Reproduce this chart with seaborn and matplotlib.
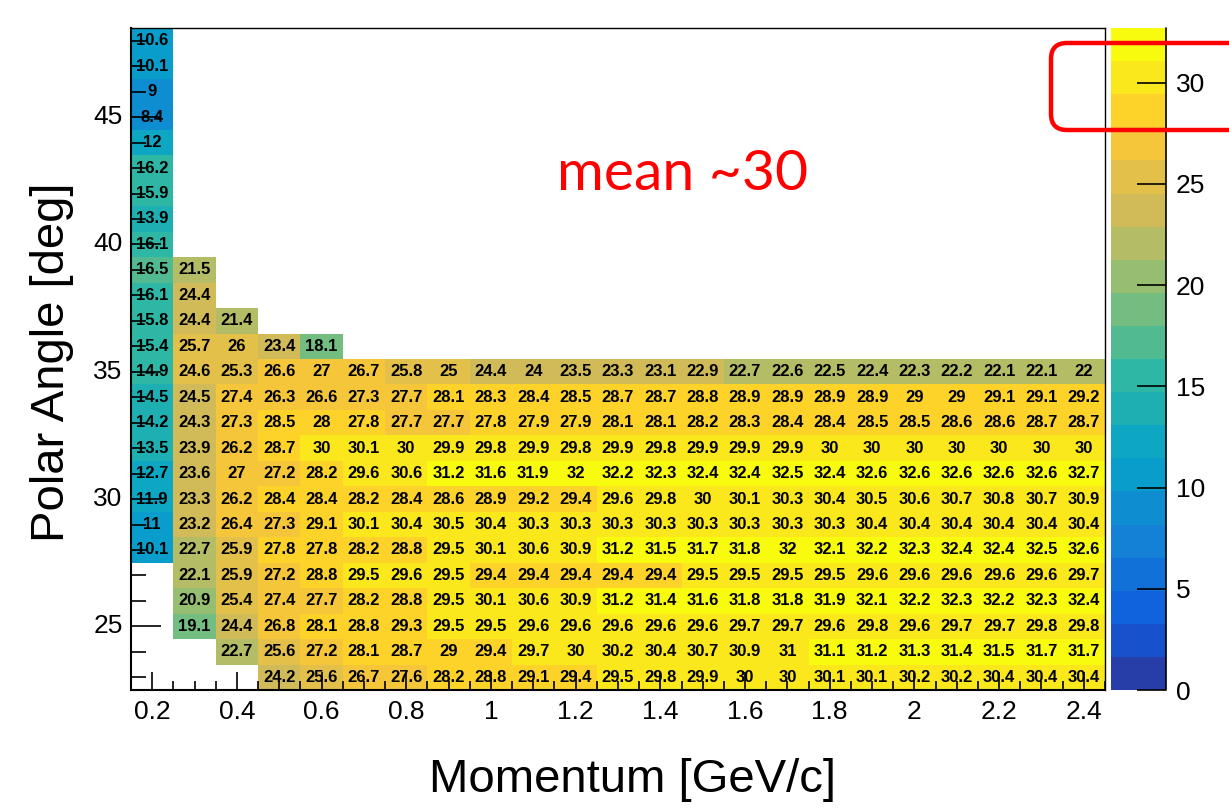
import numpy as np
import pandas as pd
import matplotlib
matplotlib.use("Agg")
import matplotlib.pyplot as plt
import seaborn as sns
from matplotlib.colors import LinearSegmentedColormap, ListedColormap
from matplotlib.patches import FancyBboxPatch
from matplotlib.transforms import IdentityTransform

nan = np.nan

# bin centres
momentum = [0.2, 0.3, 0.4, 0.5, 0.6, 0.7, 0.8, 0.9, 1.0, 1.1, 1.2, 1.3,
            1.4, 1.5, 1.6, 1.7, 1.8, 1.9, 2.0, 2.1, 2.2, 2.3, 2.4]
polar_angle = list(range(23, 49))

# per polar-angle row, values along momentum (short rows are padded with empty bins)
row_23 = [nan, nan, nan, 24.2, 25.6, 26.7, 27.6, 28.2, 28.8, 29.1, 29.4, 29.5, 29.8, 29.9, 30, 30, 30.1, 30.1, 30.2, 30.2, 30.4, 30.4, 30.4]
row_24 = [nan, nan, 22.7, 25.6, 27.2, 28.1, 28.7, 29, 29.4, 29.7, 30, 30.2, 30.4, 30.7, 30.9, 31, 31.1, 31.2, 31.3, 31.4, 31.5, 31.7, 31.7]
row_25 = [nan, 19.1, 24.4, 26.8, 28.1, 28.8, 29.3, 29.5, 29.5, 29.6, 29.6, 29.6, 29.6, 29.6, 29.7, 29.7, 29.6, 29.8, 29.6, 29.7, 29.7, 29.8, 29.8]
row_26 = [nan, 20.9, 25.4, 27.4, 27.7, 28.2, 28.8, 29.5, 30.1, 30.6, 30.9, 31.2, 31.4, 31.6, 31.8, 31.8, 31.9, 32.1, 32.2, 32.3, 32.2, 32.3, 32.4]
row_27 = [nan, 22.1, 25.9, 27.2, 28.8, 29.5, 29.6, 29.5, 29.4, 29.4, 29.4, 29.4, 29.4, 29.5, 29.5, 29.5, 29.5, 29.6, 29.6, 29.6, 29.6, 29.6, 29.7]
row_28 = [10.1, 22.7, 25.9, 27.8, 27.8, 28.2, 28.8, 29.5, 30.1, 30.6, 30.9, 31.2, 31.5, 31.7, 31.8, 32, 32.1, 32.2, 32.3, 32.4, 32.4, 32.5, 32.6]
row_29 = [11, 23.2, 26.4, 27.3, 29.1, 30.1, 30.4, 30.5, 30.4, 30.3, 30.3, 30.3, 30.3, 30.3, 30.3, 30.3, 30.3, 30.4, 30.4, 30.4, 30.4, 30.4, 30.4]
row_30 = [11.9, 23.3, 26.2, 28.4, 28.4, 28.2, 28.4, 28.6, 28.9, 29.2, 29.4, 29.6, 29.8, 30, 30.1, 30.3, 30.4, 30.5, 30.6, 30.7, 30.8, 30.7, 30.9]
row_31 = [12.7, 23.6, 27, 27.2, 28.2, 29.6, 30.6, 31.2, 31.6, 31.9, 32, 32.2, 32.3, 32.4, 32.4, 32.5, 32.4, 32.6, 32.6, 32.6, 32.6, 32.6, 32.7]
row_32 = [13.5, 23.9, 26.2, 28.7, 30, 30.1, 30, 29.9, 29.8, 29.9, 29.8, 29.9, 29.8, 29.9, 29.9, 29.9, 30, 30, 30, 30, 30, 30, 30]
row_33 = [14.2, 24.3, 27.3, 28.5, 28, 27.8, 27.7, 27.7, 27.8, 27.9, 27.9, 28.1, 28.1, 28.2, 28.3, 28.4, 28.4, 28.5, 28.5, 28.6, 28.6, 28.7, 28.7]
row_34 = [14.5, 24.5, 27.4, 26.3, 26.6, 27.3, 27.7, 28.1, 28.3, 28.4, 28.5, 28.7, 28.7, 28.8, 28.9, 28.9, 28.9, 28.9, 29, 29, 29.1, 29.1, 29.2]
row_35 = [14.9, 24.6, 25.3, 26.6, 27, 26.7, 25.8, 25, 24.4, 24, 23.5, 23.3, 23.1, 22.9, 22.7, 22.6, 22.5, 22.4, 22.3, 22.2, 22.1, 22.1, 22]
row_36 = [15.4, 25.7, 26, 23.4, 18.1]
row_37 = [15.8, 24.4, 21.4]
row_38 = [16.1, 24.4]
row_39 = [16.5, 21.5]
row_40 = [16.1]
row_41 = [13.9]
row_42 = [15.9]
row_43 = [16.2]
row_44 = [12]
row_45 = [8.4]
row_46 = [9]
row_47 = [10.1]
row_48 = [10.6]

rows = [row_23, row_24, row_25, row_26, row_27, row_28, row_29, row_30, row_31,
        row_32, row_33, row_34, row_35, row_36, row_37, row_38, row_39, row_40,
        row_41, row_42, row_43, row_44, row_45, row_46, row_47, row_48]

grid = np.full((len(polar_angle), len(momentum)), np.nan)
for i, r in enumerate(rows):
    grid[i, :len(r)] = r

# highest angle on top
df = pd.DataFrame(grid[::-1], index=polar_angle[::-1], columns=momentum)
labels = np.where(np.isnan(df.values), "",
                  np.vectorize(lambda v: f"{v:g}")(np.nan_to_num(df.values)))

# ROOT "bird" palette, 20 contour levels
stops = [0.0, 0.125, 0.25, 0.375, 0.5, 0.625, 0.75, 0.875, 1.0]
red = [0.2082, 0.0592, 0.0780, 0.0232, 0.1802, 0.5301, 0.8186, 0.9956, 0.9764]
green = [0.1664, 0.3599, 0.5041, 0.6419, 0.7178, 0.7492, 0.7328, 0.7862, 0.9832]
blue = [0.5293, 0.8684, 0.8385, 0.7914, 0.6425, 0.4662, 0.3499, 0.1968, 0.0539]
bird = LinearSegmentedColormap.from_list(
    "bird", list(zip(stops, zip(red, green, blue))), N=255)
ncont = 20
cmap = ListedColormap([bird(int((i + 0.99) * 255 / ncont)) for i in range(ncont)])
zmax = float(np.nanmax(grid))

sns.set_style("ticks")
plt.rcParams["font.family"] = ["Liberation Sans", "DejaVu Sans"]
plt.rcParams.update({"text.color": "black", "axes.labelcolor": "black",
                     "xtick.color": "black", "ytick.color": "black",
                     "axes.axisbelow": False})

fig = plt.figure(figsize=(12.29, 8.08), dpi=100)
W, H = 1229, 808
ax = fig.add_axes([131 / W, (H - 690) / H, 974 / W, 662 / H])
cax = fig.add_axes([1111 / W, (H - 690) / H, 55 / W, 662 / H])

sns.heatmap(df, ax=ax, cmap=cmap, vmin=0, vmax=zmax, annot=labels, fmt="",
            annot_kws=dict(fontsize=12, fontweight="bold", color="black"),
            cbar=True, cbar_ax=cax, linewidths=0)
ax.set_axisbelow(False)
cax.set_axisbelow(False)

# axis ticks in physical units mapped onto bin index coordinates
dp = momentum[1] - momentum[0]
p_lo = momentum[0] - dp / 2
a_hi = polar_angle[-1] + 0.5

def xpos(m):
    return (np.asarray(m) - p_lo) / dp

def ypos(a):
    return a_hi - np.asarray(a)

xmaj = np.arange(0.2, 2.41, 0.2)
xmin = np.arange(0.15, 2.451, 0.05)
ax.set_xticks(xpos(xmaj))
ax.set_xticklabels([f"{v:g}" for v in np.round(xmaj, 1)], rotation=0)
ax.set_xticks(xpos(xmin), minor=True)

ymaj = np.arange(25, 46, 5)
ymin = np.arange(23, 49, 1)
ax.set_yticks(ypos(ymaj))
ax.set_yticklabels([str(v) for v in ymaj], rotation=0, va="center")
ax.set_yticks(ypos(ymin), minor=True)

ax.tick_params(axis="y", which="major", direction="in", length=21.5, width=1.2,
               labelsize=19, pad=6, left=True, color="black")
ax.tick_params(axis="y", which="minor", direction="in", length=11, width=1.2,
               left=True, color="black")
ax.tick_params(axis="x", which="major", direction="in", length=13, width=1.2,
               labelsize=19, pad=7, bottom=True, color="black")
ax.tick_params(axis="x", which="minor", direction="in", length=6.5, width=1.2,
               bottom=True, color="black")

for name, sp in ax.spines.items():
    sp.set_visible(True)
    sp.set_color("black")
    sp.set_linewidth(1.5 if name in ("left", "bottom") else 1.0)
    sp.set_zorder(4)

ax.set_xlabel("Momentum [GeV/c]", fontsize=34)
ax.set_ylabel("Polar Angle [deg]", fontsize=34)
ax.xaxis.set_label_coords(0.515, -0.136)
ax.xaxis.label.set_va("center")
ax.yaxis.set_label_coords(-0.081, 0.495)
ax.yaxis.label.set_va("center")

# colour scale
cbar = ax.collections[0].colorbar
cbar.set_ticks(np.arange(0, 31, 5))
cbar.outline.set_visible(False)
cax.tick_params(direction="in", length=21, width=1.2, labelsize=19, pad=7,
                right=True, color="black")
cax.minorticks_off()
cax.plot([1, 1], [0, 1], transform=cax.transAxes, color="black", lw=1.2,
         clip_on=False, zorder=5)

# annotation
fig.text(557 / W, 1 - 190 / H, "mean ~30", color="#ff0000", fontsize=41,
         family=["Lato", "DejaVu Sans"], ha="left", va="baseline")
box = FancyBboxPatch((1051, H - 130), 200, 87,
                     boxstyle="round,pad=0,rounding_size=16",
                     transform=IdentityTransform(), fill=False,
                     edgecolor="#ff0000", linewidth=3.2, clip_on=False)
fig.patches.append(box)

fig.savefig("out.png", dpi=100)
